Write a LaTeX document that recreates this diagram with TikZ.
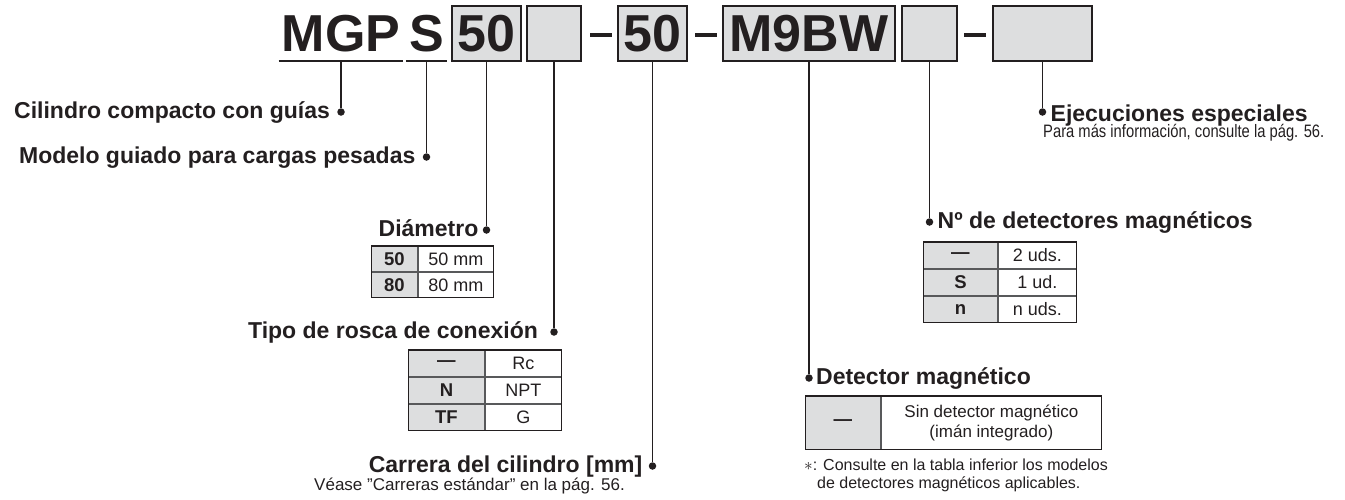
\documentclass[tikz,border=0pt]{standalone}
\usepackage{fontspec}
\setmainfont{Liberation Sans}
\newfontfamily\narrowsans[FakeStretch=0.82]{Liberation Sans}
\usetikzlibrary{positioning}

\definecolor{ink}{HTML}{231F20}
\definecolor{boxgray}{HTML}{DDDEDF}
\definecolor{cellline}{HTML}{58595B}

\tikzset{
  codetxt/.style={font=\fontsize{52}{52}\selectfont\bfseries, text=ink,
    inner xsep=3pt, inner ysep=0pt, minimum height=55pt},
  codebox/.style={codetxt, draw=ink, fill=boxgray, line width=1.6pt, inner xsep=0pt},
  hyphen/.style={fill=ink, minimum width=22pt, minimum height=3.2pt, inner sep=0pt},
  lead/.style={draw=ink, line width=1.5pt},
  dot/.style={circle, fill=ink, inner sep=0pt, minimum size=7.5pt},
  lbl/.style={font=\fontsize{23}{24}\selectfont\bfseries, text=ink, inner sep=0pt,
    text height=16.5pt, text depth=4pt},
  note/.style={font=\fontsize{16}{18}\selectfont, text=ink, inner sep=0pt, align=left},
  keycell/.style={draw=cellline, fill=boxgray, line width=0.9pt, anchor=north west,
    inner sep=0pt, font=\fontsize{18.5}{18}\selectfont\bfseries, text=ink},
  valcell/.style={draw=cellline, line width=0.9pt, anchor=north west, inner sep=0pt,
    font=\fontsize{18}{20}\selectfont, text=ink, align=center},
  tabframe/.style={draw=ink, line width=1pt},
  tabtop/.style={draw=ink, line width=2pt},
}

\begin{document}
\begin{tikzpicture}[x=1pt,y=-1pt]
  \useasboundingbox (0,0) rectangle (1345,499);

  % model code
  \node[codetxt] (mgp) at (341,33.5) {MGP};
  \node[codetxt] (hvy) at (426.5,33.5) {S};
  \draw[lead] (mgp.south west) -- (mgp.south east);
  \draw[lead] (hvy.south west) -- (hvy.south east);
  \node[codebox, minimum width=69pt] (bore) at (486.5,33.5) {50};
  \node[codebox, minimum width=54pt] (port) at (554,33.5) {};
  \node[hyphen] (h1) at (601,35) {};
  \node[codebox, minimum width=69pt] (strk) at (652.5,33.5) {50};
  \node[hyphen] (h2) at (706,35) {};
  \node[codebox, minimum width=172pt] (sw) at (809,33.5) {M9BW};
  \node[codebox, minimum width=55pt] (swn) at (929.5,33.5) {};
  \node[hyphen] (h3) at (974.5,35) {};
  \node[codebox, minimum width=99pt] (opt) at (1042.5,33.5) {};

  % leader ends
  \node[dot] (pCil) at (341,112) {};
  \node[dot] (pMod) at (426.5,157) {};
  \node[dot] (pDia) at (486.5,230) {};
  \node[dot] (pRos) at (554,332) {};
  \node[dot] (pCar) at (652.5,466) {};
  \node[dot] (pDet) at (809,378) {};
  \node[dot] (pNum) at (929.5,222) {};
  \node[dot] (pEje) at (1042.5,112) {};

  \draw[lead] (mgp.south) -- (pCil);
  \draw[lead] (hvy.south) -- (pMod);
  \draw[lead] (bore.south) -- (pDia);
  \draw[lead] (port.south) -- (pRos);
  \draw[lead] (strk.south) -- (pCar);
  \draw[lead] (sw.south) -- (pDet);
  \draw[lead] (swn.south) -- (pNum);
  \draw[lead] (opt.south) -- (pEje);

  \node[lbl, left=7pt of pCil] (tCil) {Cilindro compacto con guías};
  \node[lbl, left=7pt of pMod] (tMod) {Modelo guiado para cargas pesadas};
  \node[lbl, left=4pt of pDia] (tDia) {Diámetro};
  \node[lbl, left=12pt of pRos] (tRos) {Tipo de rosca de conexión};
  \node[lbl, left=6pt of pCar] (tCar) {Carrera del cilindro [mm]};
  \node[lbl, right=3pt of pDet] (tDet) {Detector magnético};
  \node[lbl, right=4pt of pNum] (tNum) {Nº de detectores magnéticos};
  \node[lbl, right=4pt of pEje, yshift=-3pt] (tEje) {Ejecuciones especiales};

  \node[note, anchor=west, font=\fontsize{18}{20}\selectfont\narrowsans] (sEje) at (1043,133)
    {Para más información, consulte la pág. 56.};
  \node[note, anchor=east, font=\fontsize{17}{19}\selectfont] (sCar) at (625,486)
    {Véase \symbol{34}Carreras estándar\symbol{34} en la pág. 56.};
  \node[note, anchor=west] (sDet) at (804,475)
    {{$\ast$}: Consulte en la tabla inferior los modelos\\
     \hspace*{13pt}de detectores magnéticos aplicables.};

  % bore size
  \begin{scope}[keycell/.append style={minimum width=46pt, minimum height=25pt},
                valcell/.append style={minimum width=75pt, minimum height=25pt}]
    \node[keycell] (dia11) at (371,246) {50};
    \node[valcell] (dia12) at (dia11.north east) {50 mm};
    \node[keycell] (dia21) at (dia11.south west) {80};
    \node[valcell] (dia22) at (dia21.north east) {80 mm};
    \draw[tabframe] (dia11.north west) rectangle (dia22.south east);
    \draw[tabtop] (dia11.north west) -- (dia12.north east);
  \end{scope}

  % port thread
  \begin{scope}[keycell/.append style={minimum width=76pt, minimum height=26pt},
                valcell/.append style={minimum width=76pt, minimum height=26pt}]
    \node[keycell] (ros11) at (408,350) {—};
    \node[valcell] (ros12) at (ros11.north east) {Rc};
    \node[keycell] (ros21) at (ros11.south west) {N};
    \node[valcell] (ros22) at (ros21.north east) {NPT};
    \node[keycell] (ros31) at (ros21.south west) {TF};
    \node[valcell] (ros32) at (ros31.north east) {G};
    \draw[tabframe] (ros11.north west) rectangle (ros32.south east);
    \draw[tabtop] (ros11.north west) -- (ros12.north east);
  \end{scope}

  % number of switches
  \begin{scope}[keycell/.append style={minimum width=74pt, minimum height=26pt},
                valcell/.append style={minimum width=78pt, minimum height=26pt}]
    \node[keycell] (num11) at (923,242) {—};
    \node[valcell] (num12) at (num11.north east) {2 uds.};
    \node[keycell] (num21) at (num11.south west) {S};
    \node[valcell] (num22) at (num21.north east) {1 ud.};
    \node[keycell] (num31) at (num21.south west) {n};
    \node[valcell] (num32) at (num31.north east) {n uds.};
    \draw[tabframe] (num11.north west) rectangle (num32.south east);
    \draw[tabtop] (num11.north west) -- (num12.north east);
  \end{scope}

  % auto switch
  \node[keycell, minimum width=75pt, minimum height=53pt] (det11) at (805,396) {—};
  \node[valcell, minimum width=220pt, minimum height=53pt, font=\fontsize{17}{20}\selectfont]
    (det12) at (det11.north east) {Sin detector magnético\\(imán integrado)};
  \draw[tabframe] (det11.north west) rectangle (det12.south east);
  \draw[tabtop] (det11.north west) -- (det12.north east);
\end{tikzpicture}
\end{document}
